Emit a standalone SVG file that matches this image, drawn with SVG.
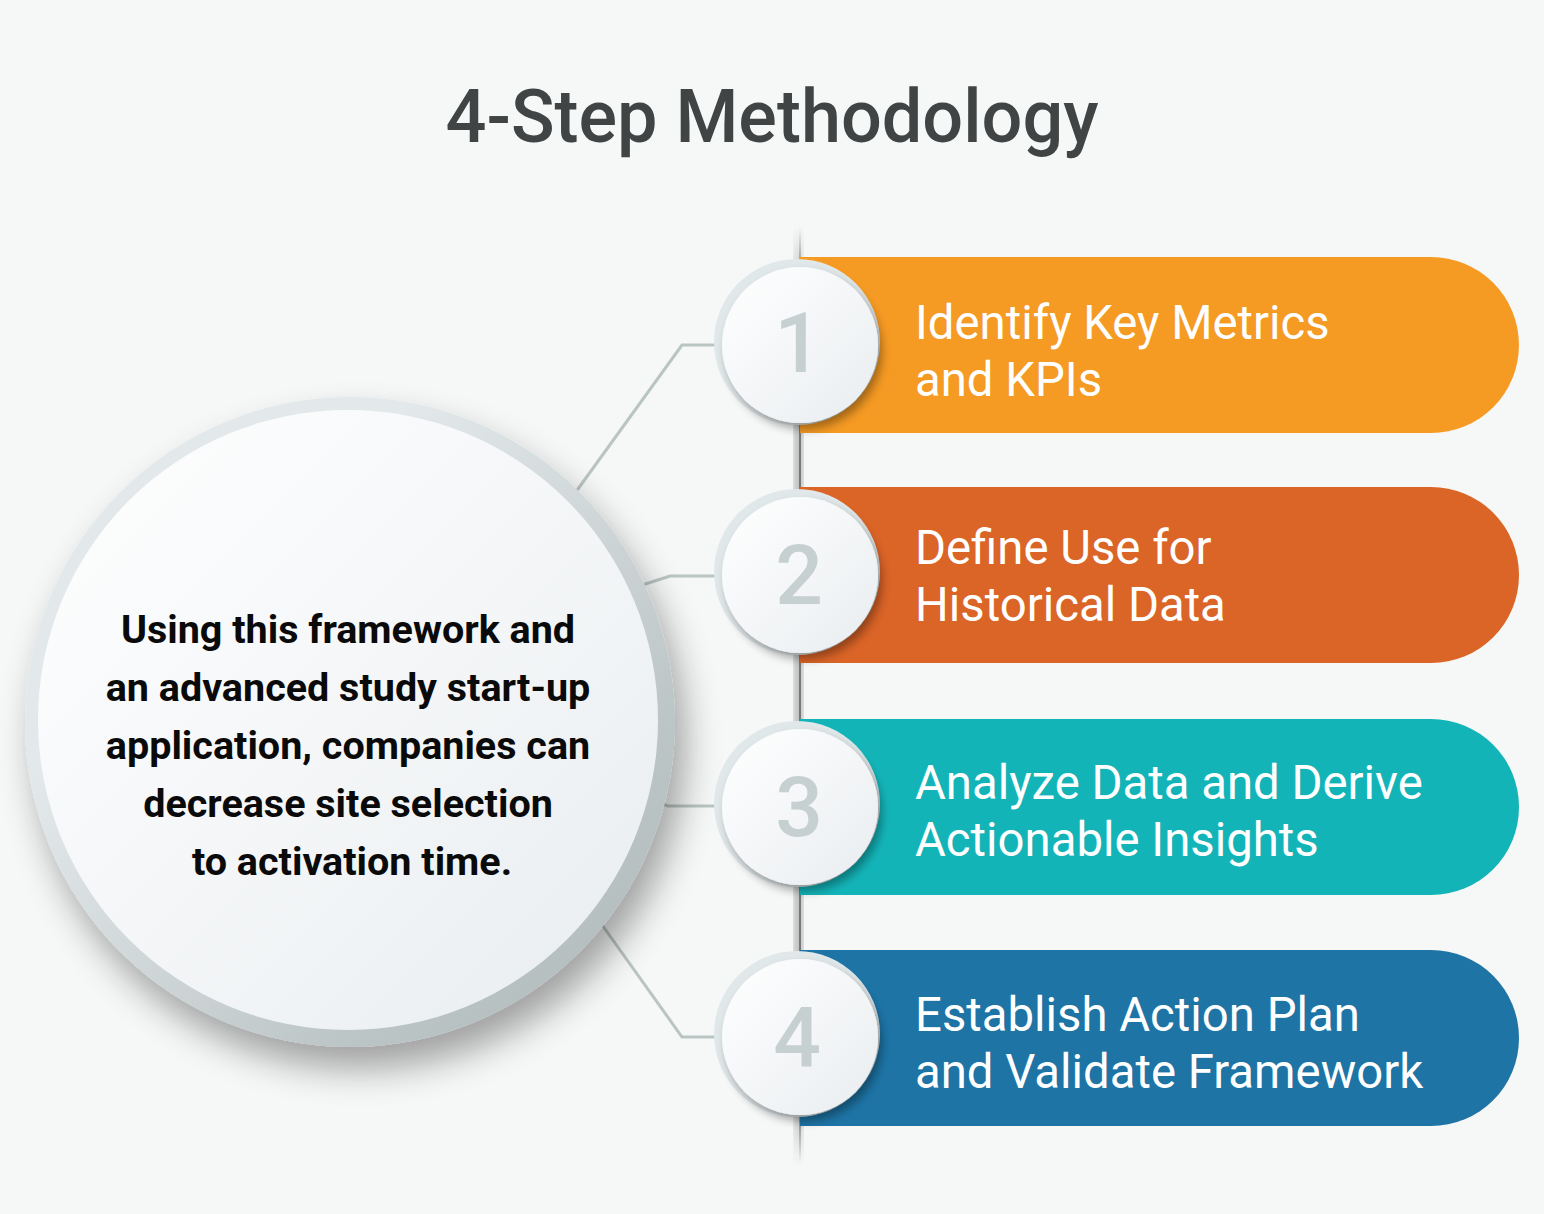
<svg xmlns="http://www.w3.org/2000/svg" width="1544" height="1214" viewBox="0 0 1544 1214">
<defs>
<style>
.title{font-family:Roboto,"Liberation Sans",sans-serif;font-weight:500;font-size:75px;fill:#414444}
.bt{font-family:Roboto,"Liberation Sans",sans-serif;font-weight:400;font-size:47.3px;fill:#ffffff}
.ct{font-family:Roboto,"Liberation Sans",sans-serif;font-weight:700;font-size:39.5px;fill:#0a0a0a;text-anchor:middle}
.num{font-family:Roboto,"Liberation Sans",sans-serif;font-weight:500;font-size:84px;fill:#c7d0d1;text-anchor:middle}
.conn{fill:none;stroke:#b9c5c3;stroke-width:3}
.ring{fill:#e1e8ea}
</style>
<linearGradient id="gWhite" x1="0" y1="0" x2="1" y2="1">
<stop offset="0" stop-color="#ffffff"/>
<stop offset="1" stop-color="#e9edf0"/>
</linearGradient>
<linearGradient id="gBigRing" x1="0" y1="0" x2="1" y2="1">
<stop offset="0.3" stop-color="#e3e9ea"/>
<stop offset="0.75" stop-color="#bcc5c6"/>
<stop offset="1" stop-color="#aeb8b9"/>
</linearGradient>
<linearGradient id="gVert" x1="0" y1="0" x2="0" y2="1">
<stop offset="0" stop-color="#555" stop-opacity="0"/>
<stop offset="0.06" stop-color="#555" stop-opacity="0.7"/>
<stop offset="0.94" stop-color="#555" stop-opacity="0.7"/>
<stop offset="1" stop-color="#555" stop-opacity="0"/>
</linearGradient>
<filter id="blur4" x="-50%" y="-50%" width="200%" height="200%"><feGaussianBlur stdDeviation="4"/></filter>
<filter id="shBig" x="-30%" y="-30%" width="160%" height="160%">
<feGaussianBlur in="SourceAlpha" stdDeviation="18"/>
<feOffset dx="10" dy="22"/>
<feComponentTransfer><feFuncA type="linear" slope="0.35"/></feComponentTransfer>
<feMerge><feMergeNode/><feMergeNode in="SourceGraphic"/></feMerge>
</filter>
<filter id="shNum" x="-40%" y="-40%" width="180%" height="180%">
<feGaussianBlur in="SourceAlpha" stdDeviation="5"/>
<feOffset dx="4" dy="6"/>
<feComponentTransfer><feFuncA type="linear" slope="0.35"/></feComponentTransfer>
<feMerge><feMergeNode/><feMergeNode in="SourceGraphic"/></feMerge>
</filter>
</defs>
<rect width="1544" height="1214" fill="#f6f7f7"/>
<text class="title" x="772" y="142" text-anchor="middle" textLength="653" lengthAdjust="spacingAndGlyphs">4-Step Methodology</text>

<g id="connectors">
<polyline class="conn" points="570,500 682,345 722,345"/>
<polyline class="conn" points="633,588 670,576 722,576"/>
<polyline class="conn" points="651,800 668,806 722,806"/>
<polyline class="conn" points="595,915 682,1037 722,1037"/>
</g>

<g id="spine">
<rect x="796" y="228" width="5" height="935" fill="url(#gVert)" filter="url(#blur4)"/>
<rect x="799" y="228" width="2" height="935" fill="url(#gVert)"/>
</g>

<g id="center">
<g filter="url(#shBig)">
<circle cx="350" cy="722" r="325" fill="url(#gBigRing)"/>
</g>
<circle cx="348" cy="720" r="310" fill="url(#gWhite)"/>
<text class="ct" x="348" y="643">Using this framework and</text>
<text class="ct" x="348" y="701">an advanced study start-up</text>
<text class="ct" x="348" y="759">application, companies can</text>
<text class="ct" x="348" y="817">decrease site selection</text>
<text class="ct" x="352" y="875">to activation time.</text>
</g>

<g id="step1">
<path d="M800,257 H1431 A88,88 0 0 1 1431,433 H800 Z" fill="#f59a23"/>
<circle class="ring" cx="797" cy="342" r="83"/>
<circle cx="800" cy="345" r="78" fill="url(#gWhite)" filter="url(#shNum)"/>
<text class="num" x="798" y="372">1</text>
<text class="bt" x="915" y="339">Identify Key Metrics</text>
<text class="bt" x="915" y="396">and KPIs</text>
</g>

<g id="step2">
<path d="M800,487 H1431 A88,88 0 0 1 1431,663 H800 Z" fill="#db6427"/>
<circle class="ring" cx="797" cy="572" r="83"/>
<circle cx="800" cy="575" r="78" fill="url(#gWhite)" filter="url(#shNum)"/>
<text class="num" x="799" y="604">2</text>
<text class="bt" x="915" y="564">Define Use for</text>
<text class="bt" x="915" y="621">Historical Data</text>
</g>

<g id="step3">
<path d="M800,719 H1431 A88,88 0 0 1 1431,895 H800 Z" fill="#13b4b8"/>
<circle class="ring" cx="797" cy="804" r="83"/>
<circle cx="800" cy="807" r="78" fill="url(#gWhite)" filter="url(#shNum)"/>
<text class="num" x="799" y="836">3</text>
<text class="bt" x="915" y="799">Analyze Data and Derive</text>
<text class="bt" x="915" y="856">Actionable Insights</text>
</g>

<g id="step4">
<path d="M800,950 H1431 A88,88 0 0 1 1431,1126 H800 Z" fill="#1d74a5"/>
<circle class="ring" cx="797" cy="1034" r="83"/>
<circle cx="800" cy="1037" r="78" fill="url(#gWhite)" filter="url(#shNum)"/>
<text class="num" x="797" y="1066">4</text>
<text class="bt" x="915" y="1031">Establish Action Plan</text>
<text class="bt" x="915" y="1088">and Validate Framework</text>
</g>
</svg>
